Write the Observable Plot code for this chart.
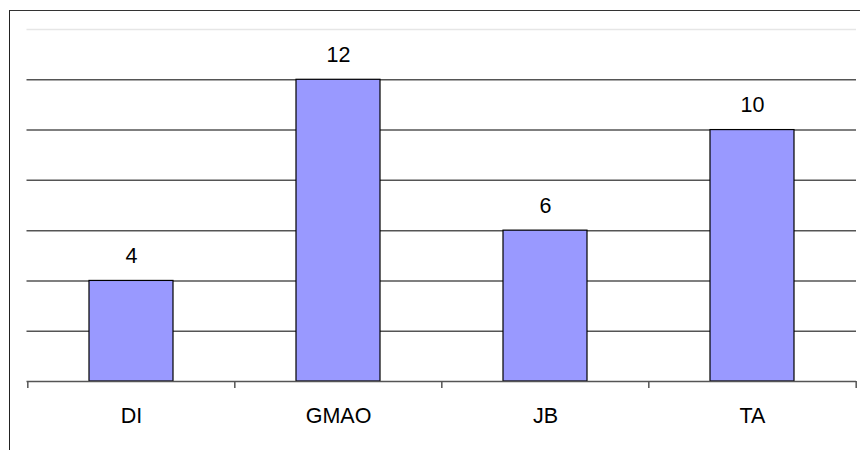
<!DOCTYPE html>
<html>
<head>
<meta charset="utf-8">
<script src="https://cdn.jsdelivr.net/npm/d3@7"></script>
<script src="https://cdn.jsdelivr.net/npm/@observablehq/plot@0.6"></script>
<style>
  html, body { margin: 0; padding: 0; background: #fff; overflow: hidden; }
  #wrap { position: relative; width: 860px; height: 450px; }
  #frame { position: absolute; left: 9px; top: 10px; width: 900px; height: 500px;
           border-left: 1.5px solid #222; border-top: 1.5px solid #333; box-sizing: border-box; pointer-events: none; }
  #chart { position: absolute; left: 0; top: 0; }
</style>
</head>
<body>
<div id="wrap"><div id="chart"></div><div id="frame"></div></div>
<script>
const categories = ["DI", "GMAO", "JB", "TA"];
const values = [4, 12, 6, 10];
const gridValues = [2, 4, 6, 8, 10, 12];
const topGrid = [14];

const data = categories.map((c, i) => ({cat: c, value: values[i]}));
const W = 860, H = 450, ML = 26.5, MR = 4;
const step = (W - ML - MR) / categories.length;
const FS = 21.5;

const chart = Plot.plot({
  width: W,
  height: H,
  marginLeft: ML,
  marginRight: MR,
  marginTop: 29,
  marginBottom: 69,
  style: {fontFamily: "'Liberation Sans', Arial, sans-serif", fontSize: FS + "px", color: "#000", background: "transparent"},
  x: {domain: categories, paddingInner: 0.595, paddingOuter: 0.2975, label: null},
  y: {domain: [0, 14], axis: null},
  marks: [
    Plot.ruleY(topGrid, {stroke: "#e6e6e6", strokeWidth: 1.5}),
    Plot.ruleY(gridValues, {stroke: "#555", strokeWidth: 1.5}),
    Plot.barY(data, {x: "cat", y: "value", fill: "#9999ff", stroke: "#000", strokeWidth: 1.2}),
    Plot.ruleY([0], {stroke: "#555", strokeWidth: 1.5}),
    Plot.ruleX(categories, {x: d => d, dx: -step / 2, y1: 0, y2: -0.28, stroke: "#555", strokeWidth: 1.5}),
    Plot.ruleX(categories.slice(-1), {x: d => d, dx: step / 2, y1: 0, y2: -0.28, stroke: "#555", strokeWidth: 1.5}),
    Plot.text(data, {x: "cat", y: "value", text: d => String(d.value), dy: -25, fontSize: FS, fill: "#000"}),
    Plot.axisX({tickSize: 0, tickPadding: 26, fontSize: FS, label: null})
  ]
});
document.getElementById("chart").appendChild(chart);
</script>
</body>
</html>
